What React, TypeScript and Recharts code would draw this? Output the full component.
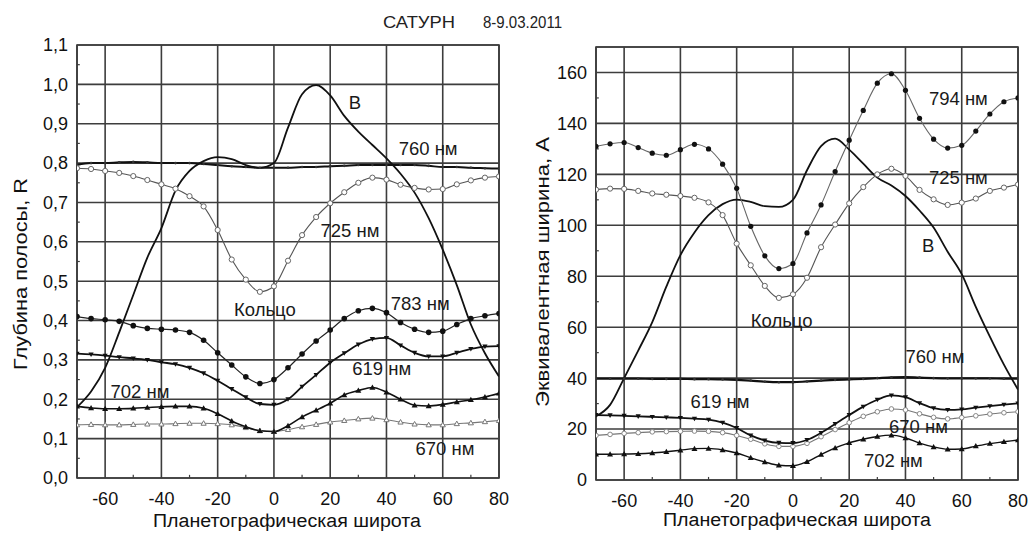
import React from 'react';
import {
  LineChart,
  Line,
  XAxis,
  YAxis,
  CartesianGrid,
  ReferenceDot,
  ReferenceLine,
  ReferenceArea,
} from 'recharts';

const FONT = '"Liberation Sans", Arial, sans-serif';

// Planetographic latitude, degrees
const latitude = [
  -70, -65, -60, -55, -50, -45, -40, -35, -30, -25, -20, -15, -10, -5, 0, 5, 10, 15, 20, 25, 30, 35, 40, 45, 50, 55,
  60, 65, 70, 75, 80,
];

// Left panel: band depth R
const depthB = [
  0.18, 0.22, 0.28, 0.37, 0.465, 0.56, 0.635, 0.73, 0.78, 0.805, 0.815, 0.81, 0.795, 0.788, 0.8, 0.89, 0.975, 0.998,
  0.972, 0.92, 0.88, 0.846, 0.812, 0.773, 0.725, 0.66, 0.58, 0.49, 0.39, 0.317, 0.258,
];
const depth760 = [
  0.795, 0.8, 0.8, 0.802, 0.803, 0.802, 0.8, 0.8, 0.8, 0.798, 0.795, 0.792, 0.79, 0.788, 0.788, 0.788, 0.79, 0.79,
  0.792, 0.793, 0.795, 0.795, 0.795, 0.795, 0.795, 0.793, 0.79, 0.79, 0.788, 0.787, 0.786,
];
const depth725 = [
  0.787, 0.785, 0.78, 0.775, 0.767, 0.757, 0.746, 0.735, 0.716, 0.69, 0.63, 0.555, 0.504, 0.473, 0.487, 0.552, 0.617,
  0.663, 0.698, 0.726, 0.75, 0.763, 0.758, 0.745, 0.737, 0.733, 0.734, 0.746, 0.756, 0.763, 0.766,
];
const depth783 = [
  0.41, 0.405, 0.402, 0.398, 0.387, 0.38, 0.378, 0.376, 0.37, 0.35, 0.318, 0.287, 0.257, 0.24, 0.25, 0.28, 0.315,
  0.348, 0.376, 0.405, 0.425, 0.431, 0.42, 0.395, 0.378, 0.37, 0.373, 0.39, 0.405, 0.412, 0.418,
];
const depth619 = [
  0.316, 0.314, 0.311, 0.307, 0.304, 0.3, 0.294, 0.289, 0.28, 0.266, 0.247, 0.226, 0.205, 0.188, 0.186, 0.2, 0.232,
  0.262, 0.293, 0.317, 0.339, 0.353, 0.356, 0.337, 0.318, 0.309, 0.309, 0.318, 0.328, 0.334, 0.335,
];
const depth702 = [
  0.182, 0.178, 0.176, 0.176, 0.177, 0.179, 0.181, 0.182, 0.182, 0.177, 0.163, 0.145, 0.13, 0.12, 0.118, 0.133, 0.155,
  0.172, 0.19, 0.211, 0.222, 0.23, 0.218, 0.2, 0.185, 0.183, 0.187, 0.193, 0.199, 0.206, 0.215,
];
const depth670 = [
  0.135, 0.136, 0.135, 0.135, 0.136, 0.137, 0.137, 0.138, 0.139, 0.139, 0.138, 0.135, 0.128, 0.12, 0.118, 0.123, 0.13,
  0.136, 0.142, 0.146, 0.15, 0.152, 0.148, 0.142, 0.137, 0.135, 0.135, 0.138, 0.14, 0.143, 0.146,
];

// Right panel: equivalent width, A
const widthB = [
  25, 29.5, 40, 50.8, 62, 75.9, 88.3, 97.2, 104, 108.3, 110.1, 109.2, 107.5, 107.2, 110, 121.6, 131.1, 134, 129.7,
  124.2, 118.7, 115.6, 111.5, 105.8, 99.1, 89.6, 80.8, 68, 56.3, 45.3, 35.5,
];
const width794 = [
  131, 132, 132.5, 130.5, 128.3, 127.5, 129.7, 131.8, 130, 124, 114.5, 99.6, 88, 83, 85, 97, 108, 121.1, 133.4, 145.1,
  155.8, 159.5, 153, 142, 133.8, 130.3, 131.4, 137, 143.7, 148.5, 150,
];
const width725 = [
  114, 114.4, 114.3, 113.5, 112.5, 112, 111.5, 110.8, 109, 104, 92.8, 84.3, 76.2, 71.5, 72.9, 79.4, 91.4, 100.3, 108.6,
  115, 120, 122.2, 119.4, 113.9, 110.2, 108, 108.9, 110.5, 113.5, 114.8, 116,
];
const width760 = [
  39.8, 39.8, 39.8, 39.8, 39.7, 39.7, 39.7, 39.6, 39.6, 39.5, 39.3, 39, 38.6, 38.4, 38.4, 38.7, 39, 39.3, 39.5, 39.7, 40,
  40.3, 40.4, 40.2, 40, 39.9, 39.9, 39.9, 39.9, 39.8, 39.8,
];
const width619 = [
  25.5, 25.4, 25.2, 25, 24.8, 24.6, 24.4, 24.1, 23.7, 22.5, 20.4, 17.5, 15.5, 14.6, 14.5, 15.7, 18.5, 22, 25.5, 28.8,
  31.5, 33.2, 32.5, 30.2, 28.2, 27.5, 27.7, 28.4, 29, 29.6, 30.1,
];
const width670 = [
  17.5, 17.9, 18.3, 18.6, 18.9, 19, 19.1, 19.2, 19.1, 18.6, 17.5, 16, 14.2, 13.2, 13.2, 14.4, 17, 19.8, 22.5, 25, 26.8,
  27.9, 27.5, 26, 24.6, 24, 24.5, 25.2, 25.9, 26.4, 26.8,
];
const width702 = [
  10.1, 10.1, 10.2, 10.3, 10.6, 11.1, 11.7, 12.3, 12.4, 11.8, 10.6, 8.7, 7.1, 5.8, 5.6, 7.2, 10, 12.6, 14.6, 16, 17.1,
  17.6, 16.5, 14.5, 13, 12.1, 12.2, 13.3, 14.3, 15, 15.7,
];

// Axis ticks
const latTicks = [-60, -40, -20, 0, 20, 40, 60, 80];
const latMinor = [-50, -30, -10, 10, 30, 50, 70];
const depthTicks = [0, 0.1, 0.2, 0.3, 0.4, 0.5, 0.6, 0.7, 0.8, 0.9, 1.0, 1.1];
const depthMinor = [0.05, 0.15, 0.25, 0.35, 0.45, 0.55, 0.65, 0.75, 0.85, 0.95, 1.05];
const widthTicks = [0, 20, 40, 60, 80, 100, 120, 140, 160];
const widthMinor = [10, 30, 50, 70, 90, 110, 130, 150];

// Curve annotations
const leftNotes = [
  { text: 'В', x: 28.8, y: 0.955 },
  { text: '760 нм', x: 54.8, y: 0.838 },
  { text: '725 нм', x: 27, y: 0.63 },
  { text: 'Кольцо', x: -3.2, y: 0.427 },
  { text: '783 нм', x: 52, y: 0.444 },
  { text: '619 нм', x: 38.3, y: 0.279 },
  { text: '702 нм', x: -47.6, y: 0.219 },
  { text: '670 нм', x: 60.8, y: 0.075 },
];
const rightNotes = [
  { text: '794 нм', x: 58.8, y: 149.7 },
  { text: '725 нм', x: 58.8, y: 118.9 },
  { text: 'В', x: 48.1, y: 92.2 },
  { text: 'Кольцо', x: -4, y: 62.7 },
  { text: '760 нм', x: 50.5, y: 48.4 },
  { text: '619 нм', x: -25.9, y: 30.7 },
  { text: '670 нм', x: 44.6, y: 20.9 },
  { text: '702 нм', x: 35.7, y: 7.8 },
];

const leftData = latitude.map((lat, i) => ({
  lat,
  b: depthB[i],
  s760: depth760[i],
  s725: depth725[i],
  s783: depth783[i],
  s619: depth619[i],
  s702: depth702[i],
  s670: depth670[i],
}));

const rightData = latitude.map((lat, i) => ({
  lat,
  b: widthB[i],
  s794: width794[i],
  s725: width725[i],
  s760: width760[i],
  s619: width619[i],
  s670: width670[i],
  s702: width702[i],
}));

type Shape = 'none' | 'dot' | 'ring' | 'up' | 'down' | 'openUp';

function marker(shape: Shape, color: string, size: number) {
  return (p: any) => {
    const { cx, cy, index } = p;
    const k = `m-${index}`;
    if (shape === 'none' || cx == null || cy == null || isNaN(cx) || isNaN(cy)) return <g key={k} />;
    const s = size;
    switch (shape) {
      case 'dot':
        return <circle key={k} cx={cx} cy={cy} r={s} fill={color} />;
      case 'ring':
        return <circle key={k} cx={cx} cy={cy} r={s} fill="#fff" stroke={color} strokeWidth={1} />;
      case 'up':
        return (
          <path key={k} d={`M${cx},${cy - s}L${cx + s},${cy + s * 0.75}L${cx - s},${cy + s * 0.75}Z`} fill={color} />
        );
      case 'down':
        return (
          <path key={k} d={`M${cx},${cy + s}L${cx + s},${cy - s * 0.75}L${cx - s},${cy - s * 0.75}Z`} fill={color} />
        );
      case 'openUp':
        return (
          <path
            key={k}
            d={`M${cx},${cy - s}L${cx + s},${cy + s * 0.75}L${cx - s},${cy + s * 0.75}Z`}
            fill="#fff"
            stroke={color}
            strokeWidth={1}
          />
        );
      default:
        return <g key={k} />;
    }
  };
}

type Series = { key: string; stroke: string; width: number; shape: Shape; mColor: string; size: number };

const leftSeries: Series[] = [
  { key: 'b', stroke: '#111', width: 1.8, shape: 'none', mColor: '#111', size: 0 },
  { key: 's760', stroke: '#111', width: 2, shape: 'dot', mColor: '#333', size: 1.3 },
  { key: 's725', stroke: '#555', width: 1.1, shape: 'ring', mColor: '#666', size: 2.6 },
  { key: 's783', stroke: '#222', width: 1.2, shape: 'dot', mColor: '#111', size: 2.8 },
  { key: 's619', stroke: '#111', width: 1.8, shape: 'down', mColor: '#111', size: 2.6 },
  { key: 's670', stroke: '#777', width: 1.1, shape: 'openUp', mColor: '#777', size: 2.6 },
  { key: 's702', stroke: '#111', width: 1.6, shape: 'up', mColor: '#111', size: 3 },
];

const rightSeries: Series[] = [
  { key: 'b', stroke: '#111', width: 1.8, shape: 'none', mColor: '#111', size: 0 },
  { key: 's760', stroke: '#111', width: 2.2, shape: 'dot', mColor: '#333', size: 1.3 },
  { key: 's794', stroke: '#666', width: 1.1, shape: 'dot', mColor: '#111', size: 2.6 },
  { key: 's725', stroke: '#555', width: 1.1, shape: 'ring', mColor: '#666', size: 2.6 },
  { key: 's670', stroke: '#777', width: 1.1, shape: 'ring', mColor: '#888', size: 2.3 },
  { key: 's619', stroke: '#111', width: 1.8, shape: 'down', mColor: '#111', size: 2.6 },
  { key: 's702', stroke: '#111', width: 1.4, shape: 'up', mColor: '#111', size: 3 },
];

const tickStyle = { fontSize: 18, fill: '#111', fontFamily: FONT };
const GRID = '#3d3d3d';

function Panel(props: {
  data: any[];
  series: Series[];
  yDomain: [number, number];
  yTicks: number[];
  yMinor: number[];
  notes: { text: string; x: number; y: number }[];
  fmt: (v: number) => string;
  margin: { top: number; right: number; bottom: number; left: number };
  width: number;
  minorLen: number;
}) {
  const { data, series, yDomain, yTicks, yMinor, notes, fmt, margin, width, minorLen } = props;
  return (
    <LineChart width={width} height={535} data={data} margin={margin}>
      <CartesianGrid stroke={GRID} strokeWidth={1.6} />
      <XAxis
        type="number"
        dataKey="lat"
        domain={[-70, 80]}
        ticks={latTicks}
        allowDataOverflow
        axisLine={false}
        tickLine={false}
        tickSize={0}
        tickMargin={14}
        height={30}
        tick={tickStyle}
      />
      <YAxis
        type="number"
        domain={yDomain}
        ticks={yTicks}
        allowDataOverflow
        axisLine={false}
        tickLine={false}
        tickSize={0}
        tickMargin={9}
        width={50}
        tick={tickStyle}
        tickFormatter={fmt}
      />
      <ReferenceArea
        x1={-70}
        x2={80}
        y1={yDomain[0]}
        y2={yDomain[1]}
        fill="none"
        fillOpacity={0}
        stroke={GRID}
        strokeWidth={1.7}
        ifOverflow="visible"
      />
      {yMinor.map((v) => (
        <ReferenceLine
          key={`ym${v}`}
          segment={[
            { x: -70, y: v },
            { x: -69, y: v },
          ]}
          stroke={GRID}
          strokeWidth={1.2}
        />
      ))}
      {latMinor.map((v) => (
        <ReferenceLine
          key={`xm${v}`}
          segment={[
            { x: v, y: yDomain[0] },
            { x: v, y: yDomain[0] + minorLen },
          ]}
          stroke={GRID}
          strokeWidth={1.2}
        />
      ))}
      {series.map((s) => (
        <Line
          key={s.key}
          type="monotone"
          dataKey={s.key}
          stroke={s.stroke}
          strokeWidth={s.width}
          dot={marker(s.shape, s.mColor, s.size)}
          activeDot={false}
          isAnimationActive={false}
        />
      ))}
      {notes.map((n) => (
        <ReferenceDot
          key={n.text + n.x}
          x={n.x}
          y={n.y}
          r={0}
          fill="none"
          stroke="none"
          ifOverflow="visible"
          label={{ value: n.text, position: 'center', fill: '#1a1a1a', fontSize: 18.5, fontFamily: FONT }}
        />
      ))}
    </LineChart>
  );
}

export default function App() {
  return (
    <div
      style={{
        position: 'absolute',
        left: 0,
        top: 0,
        width: 1031,
        height: 535,
        background: '#fff',
        overflow: 'hidden',
      }}
    >
      <div style={{ position: 'absolute', left: 0, top: 0 }}>
        <Panel
          data={leftData}
          series={leftSeries}
          yDomain={[0, 1.1]}
          yTicks={depthTicks}
          yMinor={depthMinor}
          notes={leftNotes}
          fmt={(v) => v.toFixed(1).replace('.', ',')}
          margin={{ top: 45, right: 21, bottom: 27, left: 27 }}
          width={520}
          minorLen={0.008}
        />
      </div>
      <div style={{ position: 'absolute', left: 520, top: 0 }}>
        <Panel
          data={rightData}
          series={rightSeries}
          yDomain={[0, 170]}
          yTicks={widthTicks}
          yMinor={widthMinor}
          notes={rightNotes}
          fmt={(v) => String(v)}
          margin={{ top: 47, right: 13, bottom: 25, left: 26 }}
          width={511}
          minorLen={1.2}
        />
      </div>
      <svg width={1031} height={535} style={{ position: 'absolute', left: 0, top: 0, pointerEvents: 'none' }}>
        <text x={383} y={28} fontSize={16} fontFamily={FONT} fill="#222" textLength={72} lengthAdjust="spacingAndGlyphs">
          САТУРН
        </text>
        <text x={483} y={28} fontSize={16} fontFamily={FONT} fill="#222" textLength={79} lengthAdjust="spacingAndGlyphs">
          8-9.03.2011
        </text>
        <text
          x={0}
          y={0}
          transform="translate(27,274) rotate(-90)"
          textAnchor="middle"
          fontSize={18}
          fontFamily={FONT}
          fill="#111"
          textLength={192}
          lengthAdjust="spacingAndGlyphs"
        >
          Глубина полосы, R
        </text>
        <text
          x={0}
          y={0}
          transform="translate(549,272) rotate(-90)"
          textAnchor="middle"
          fontSize={18}
          fontFamily={FONT}
          fill="#111"
          textLength={270}
          lengthAdjust="spacingAndGlyphs"
        >
          Эквивалентная ширина, A
        </text>
        <text
          x={287}
          y={527}
          textAnchor="middle"
          fontSize={18}
          fontFamily={FONT}
          fill="#111"
          textLength={268}
          lengthAdjust="spacingAndGlyphs"
        >
          Планетографическая широта
        </text>
        <text
          x={797}
          y={526}
          textAnchor="middle"
          fontSize={18}
          fontFamily={FONT}
          fill="#111"
          textLength={268}
          lengthAdjust="spacingAndGlyphs"
        >
          Планетографическая широта
        </text>
      </svg>
    </div>
  );
}
